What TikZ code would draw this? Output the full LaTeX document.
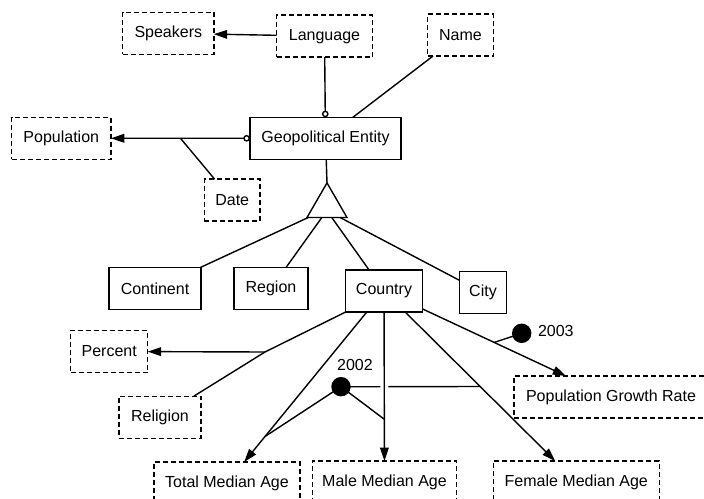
\documentclass[tikz,border=0pt]{standalone}
\usepackage{fontspec}
\setmainfont{Liberation Sans}
\usetikzlibrary{arrows.meta, shapes.geometric, calc}

\begin{document}
\begin{tikzpicture}[x=0.75pt, y=-0.75pt,
				>={Triangle[length=10pt,width=6.5pt]},   %Pfeilspitzen
				font=\fontsize{12}{14}\selectfont, line width=1.05pt,
				entity/.style={draw, rectangle, minimum height=31.5pt, inner sep=0pt, outer sep=0pt},
				attr/.style={entity, dash pattern=on 3.8pt off 2.2pt},
				optional/.style={-{Circle[open,length=5pt]}},
				stamp/.style={draw, circle, fill=black, minimum size=13.5pt, inner sep=0pt, outer sep=0pt}]
				%Bildbereich
				\useasboundingbox (0,0) rectangle (704,499);
				\clip (0,0) rectangle (704,499);
				% Obere Knoten
				\node[attr, minimum width=68.3pt] (speakers) at (168.3,33.3) {Speakers};
				\node[attr, minimum width=71.7pt] (language) at (324.5,36.2) {Language};
				\node[attr, minimum width=49.2pt] (name) at (460.5,35) {Name};
				\node[attr, minimum width=74.5pt] (population) at (61.3,138.3) {Population};
				\node[entity, minimum width=113.3pt] (geo) at (325.5,138.3) {Geopolitical Entity};
				\node[attr, minimum width=41.8pt] (date) at (232.2,200.2) {Date};
				\node[draw, regular polygon, regular polygon sides=3, minimum size=34.65pt, inner sep=0pt, outer sep=0pt] (isa) at (327,206) {};
				% Unterklassen
				\node[entity, minimum width=68.8pt] (continent) at (155,288.5) {Continent};
				\node[entity, minimum width=55.7pt] (region) at (271,288.5) {Region};
				\node[entity, minimum width=57.5pt] (country) at (384,291) {Country};
				\node[entity, minimum width=35.5pt] (city) at (483,292.7) {City};
				% Attribute von Country
				\node[attr, minimum width=57.8pt] (percent) at (109.2,351.5) {Percent};
				\node[attr, minimum width=61.5pt] (religion) at (160,417.2) {Religion};
				\node[attr, minimum width=145.5pt] (growth) at (611,397) {Population Growth Rate};
				\node[attr, minimum width=109.5pt] (total) at (227,483) {Total Median Age};
				\node[attr, minimum width=108.3pt] (male) at (384.5,482) {Male Median Age};
				\node[attr, minimum width=124.5pt] (female) at (576.3,482) {Female Median Age};
				% Verbindungen oben
				\draw[->] (language) -- (speakers);
				\draw[optional] (language) -- (geo);
				\draw (name) -- (geo);
				\coordinate (popdate) at ($(population.east)!0.5!(geo.west)$);
				\draw[->] (popdate) -- (population);
				\draw[optional] (popdate) -- (geo);
				\draw (popdate) -- (date);
				% Generalisierung
				\draw (geo) -- (isa.corner 1);
				\foreach \child/\p in {continent/0.03, region/0.37, country/0.62, city/0.83}
					\draw ($(isa.corner 2)!\p!(isa.corner 3)$) -- (\child);
				% Verbindungen unten
				\coordinate (relbend) at (265,352);
				\draw (country.south west) -- (relbend) -- (religion);
				\draw[->] (relbend) -- (percent);
				\draw[->] (country) -- coordinate[pos=0.83] (totalj) (total);
				\draw[->] (country) -- coordinate[pos=0.72] (malej) (male);
				\draw[->] (country) -- coordinate[pos=0.5] (femalej) (female);
				\draw[->] (country) -- coordinate[midway] (growthj) (growth);
				% Zeitstempel
				\node[stamp] (s2002) at (341,386.7) {};
				\node[inner sep=0pt] (l2002) at (355,365) {2002};
				\node[stamp] (s2003) at (521.7,333.3) {};
				\node[anchor=west, inner sep=0pt] (l2003) at (537.3,330.5) {2003};
				\draw (s2003) -- (growthj);
				\draw (s2002) -- (totalj);
				\draw (s2002) -- (malej);
				\draw (s2002) -- ($(malej |- s2002)+(-4,0)$) ($(malej |- s2002)+(4,0)$) -- (femalej);
			\end{tikzpicture}
\end{document}
